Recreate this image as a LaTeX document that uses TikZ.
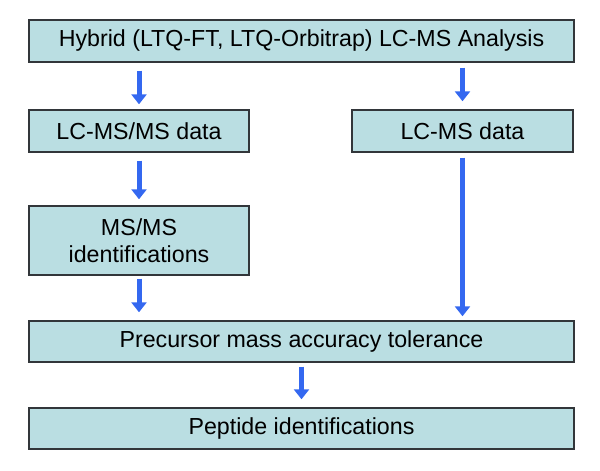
\documentclass[tikz,border=0pt]{standalone}
\usepackage{fontspec}
\setmainfont{Liberation Sans}
\usetikzlibrary{arrows.meta}
\definecolor{boxfill}{RGB}{186,222,226}
\definecolor{boxline}{RGB}{50,54,58}
\definecolor{arrblue}{RGB}{52,104,240}
\begin{document}
\begin{tikzpicture}[x=1bp,y=-1bp,
  stepbox/.style={draw=boxline,line width=1.4bp,fill=boxfill,inner sep=0pt,
    font=\fontsize{23.3}{27}\selectfont,align=center},
  arr/.style={draw=arrblue,line width=5bp,-{Triangle[width=15bp,length=10bp]}}]
\useasboundingbox (0,0) rectangle (600,471);
\node[stepbox,minimum width=545bp,minimum height=42bp] (top) at (301.5,41) {Hybrid (LTQ-FT, LTQ-Orbitrap) LC-MS Analysis};
\node[stepbox,minimum width=220bp,minimum height=42bp] (lcmsms) at (139,131) {LC-MS/MS data};
\node[stepbox,minimum width=221bp,minimum height=42bp] (lcms) at (462.5,131) {LC-MS data};
\node[stepbox,minimum width=220bp,minimum height=69bp] (ident) at (139,240.5) {MS/MS\\identifications};
\node[stepbox,minimum width=545bp,minimum height=41bp] (prec) at (301.5,341.5) {Precursor mass accuracy tolerance};
\node[stepbox,minimum width=545bp,minimum height=41bp] (pep) at (301.5,428.5) {Peptide identifications};
\draw[arr] ([yshift=-8bp]top.south -| lcmsms.north) -- ([yshift=5bp]lcmsms.north);
\draw[arr] ([yshift=-5bp]top.south -| lcms.north) -- ([yshift=8bp]lcms.north);
\draw[arr] ([yshift=-8bp]lcmsms.south) -- ([yshift=6bp]ident.north);
\draw[arr] ([yshift=-3bp]ident.south) -- ([yshift=8bp]prec.north -| ident.south);
\draw[arr] ([yshift=-5bp]lcms.south) -- ([yshift=4bp]prec.north -| lcms.south);
\draw[arr] ([yshift=-4bp]prec.south) -- ([yshift=8bp]pep.north);
\end{tikzpicture}
\end{document}
